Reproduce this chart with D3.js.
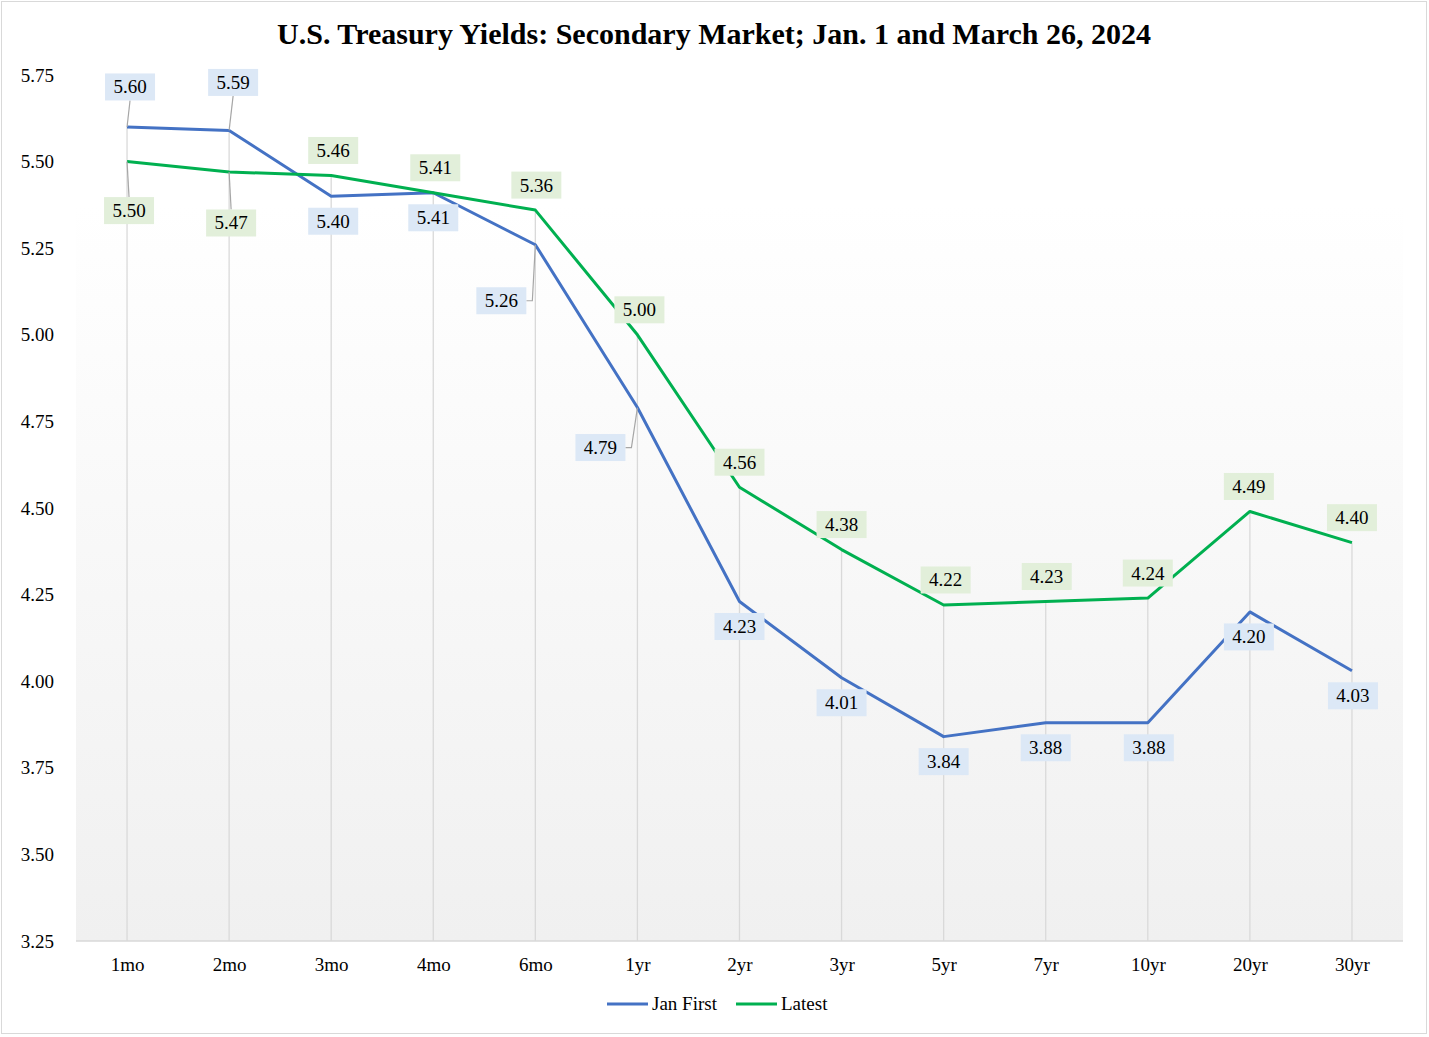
<!DOCTYPE html>
<html>
<head>
<meta charset="utf-8">
<script src="https://cdn.jsdelivr.net/npm/d3@7"></script>
<style>
html,body{margin:0;padding:0;background:#fff;}
svg{display:block;font-family:"Liberation Serif","Times New Roman",serif;}
svg text{font-family:"Liberation Serif","Times New Roman",serif;}
</style>
</head>
<body>
<svg id="chart" width="1429" height="1037"></svg>
<script>
const categories = ["1mo","2mo","3mo","4mo","6mo","1yr","2yr","3yr","5yr","7yr","10yr","20yr","30yr"];
const janFirst = [5.60,5.59,5.40,5.41,5.26,4.79,4.23,4.01,3.84,3.88,3.88,4.20,4.03];
const latest   = [5.50,5.47,5.46,5.41,5.36,5.00,4.56,4.38,4.22,4.23,4.24,4.49,4.40];
const yTicks = [3.25,3.50,3.75,4.00,4.25,4.50,4.75,5.00,5.25,5.50,5.75];
const seriesNames = ["Jan First","Latest"];
const chartTitle = "U.S. Treasury Yields: Secondary Market; Jan. 1 and March 26, 2024";

// label placement (pixel offsets of label box centre from its point) and leader type
const janLabelPos = [[3,-40,"s"],[4,-48,"s"],[2,25],[0,25],[-34,56,"elbow"],[-37,40,"elbow"],[0,25],[0,25],[0,25],[0,25],[1,25],[-1,25],[1,25]];
const latLabelPos = [[2,49,"s"],[2,51,"s"],[2,-25],[2,-25],[1,-25],[2,-25],[0,-25],[0,-25],[2,-25],[1,-25],[0,-25],[-1,-25],[0,-25]];

const svg = d3.select("#chart");
const pLeft = 76, pRight = 1403, pTop = 75, pBottom = 941;
const FS = 19;

svg.append("rect").attr("x",1.5).attr("y",1.5).attr("width",1425).attr("height",1032)
  .attr("fill","#fff").attr("stroke","#d9d9d9").attr("stroke-width",1);

const defs = svg.append("defs");
const grad = defs.append("linearGradient").attr("id","bg").attr("x1",0).attr("y1",0).attr("x2",0).attr("y2",1);
grad.append("stop").attr("offset","0%").attr("stop-color","#ffffff");
grad.append("stop").attr("offset","15%").attr("stop-color","#ffffff");
grad.append("stop").attr("offset","100%").attr("stop-color","#f0f0f0");

const x = d3.scalePoint().domain(categories).range([pLeft, pRight]).padding(0.5);
const y = d3.scaleLinear().domain([3.25,5.75]).range([pBottom, pTop]);

svg.append("rect").attr("x",pLeft).attr("y",pTop).attr("width",pRight-pLeft).attr("height",pBottom-pTop)
  .attr("fill","url(#bg)");

// title
svg.append("text").attr("x",714).attr("y",44).attr("text-anchor","middle")
  .attr("font-size",30).attr("font-weight","bold").attr("fill","#000").text(chartTitle);

// y axis labels
const yAxis = d3.axisLeft(y).tickValues(yTicks).tickFormat(d3.format(".2f")).tickSize(0).tickPadding(0);
const ya = svg.append("g").attr("transform",`translate(54,0)`).call(yAxis);
ya.attr("font-family",null).attr("font-size",null);
ya.select(".domain").remove();
ya.selectAll("text").attr("font-size",FS).attr("fill","#000");

// drop lines
svg.append("g").selectAll("line").data(categories).join("line")
  .attr("x1",d=>x(d)).attr("x2",d=>x(d))
  .attr("y1",(d,i)=>y(Math.max(janFirst[i],latest[i])))
  .attr("y2",pBottom)
  .attr("stroke","#d9d9d9").attr("stroke-width",1.3);

// x axis
const xAxis = d3.axisBottom(x).tickSize(0).tickPadding(17);
const xa = svg.append("g").attr("transform",`translate(0,${pBottom})`).call(xAxis);
xa.attr("font-family",null).attr("font-size",null);
xa.select(".domain").attr("stroke","#d9d9d9").attr("stroke-width",1.5).attr("d",`M${pLeft},0H${pRight}`);
xa.selectAll("text").attr("font-size",FS).attr("fill","#000");

const colors = ["#4472c4","#00b050"];
const line = d3.line().x((d,i)=>x(categories[i])).y(d=>y(d));
[janFirst, latest].forEach((s,k)=>{
  svg.append("path").datum(s).attr("d",line).attr("fill","none")
    .attr("stroke",colors[k]).attr("stroke-width",3).attr("stroke-linejoin","round");
});

// labels
const boxFill = ["#dce8f6","#e2efda"];
const bw = 50, bh = 27;
function drawLabels(s, pos, k){
  const g = svg.append("g");
  s.forEach((v,i)=>{
    const px = x(categories[i]), py = y(v);
    const [dx,dy,type] = pos[i];
    const cx = px+dx, cy = py+dy;
    if(type==="s"){
      const ey = dy<0 ? cy+bh/2 : cy-bh/2;
      g.append("line").attr("x1",cx).attr("y1",ey).attr("x2",px).attr("y2",py)
        .attr("stroke","#a6a6a6").attr("stroke-width",1.2);
    } else if(type==="elbow"){
      const ex = cx+bw/2;
      g.append("path").attr("d",`M${ex},${cy}H${ex+6}L${px},${py}`).attr("fill","none")
        .attr("stroke","#a6a6a6").attr("stroke-width",1.2);
    }
    g.append("rect").attr("x",cx-bw/2).attr("y",cy-bh/2).attr("width",bw).attr("height",bh)
      .attr("fill",boxFill[k]);
    g.append("text").attr("x",cx).attr("y",cy+6.5).attr("text-anchor","middle")
      .attr("font-size",FS).attr("fill","#000").text(d3.format(".2f")(v));
  });
}
drawLabels(janFirst, janLabelPos, 0);
drawLabels(latest, latLabelPos, 1);

// legend
const lg = svg.append("g");
const legendItems = [{x:607,name:seriesNames[0],c:colors[0]},{x:736,name:seriesNames[1],c:colors[1]}];
legendItems.forEach(it=>{
  lg.append("line").attr("x1",it.x).attr("x2",it.x+41).attr("y1",1004).attr("y2",1004)
    .attr("stroke",it.c).attr("stroke-width",3);
  lg.append("text").attr("x",it.x+45).attr("y",1010).attr("font-size",FS).attr("fill","#000").text(it.name);
});
</script>
</body>
</html>
